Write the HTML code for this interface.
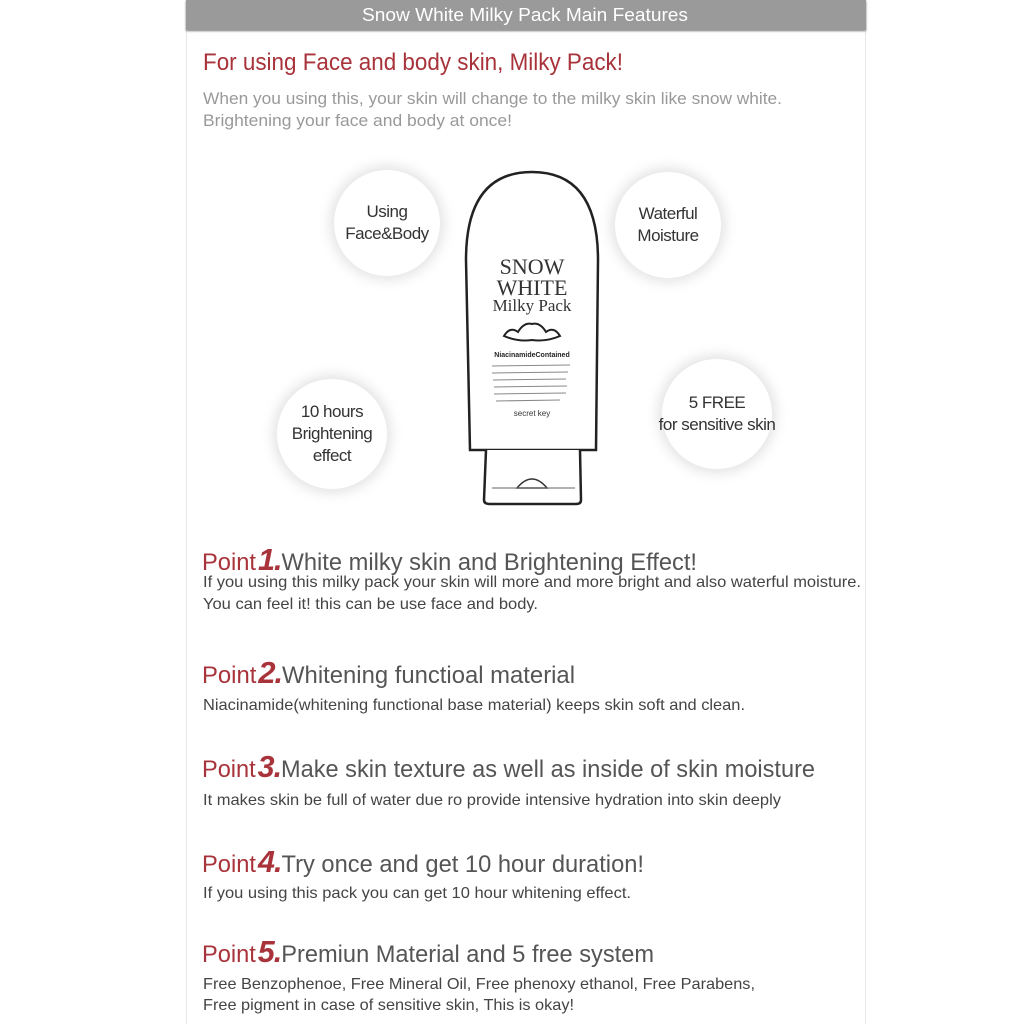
<!DOCTYPE html>
<html><head><meta charset="utf-8"><style>
html,body{margin:0;padding:0;background:#fff;}
body{width:1024px;height:1024px;position:relative;overflow:hidden;font-family:"Liberation Sans",Arial,sans-serif;}
.panel{position:absolute;left:186px;top:0;width:678px;height:1024px;border-left:1px solid #e6e6e6;border-right:1px solid #e6e6e6;background:#fff;}
.hdr{position:absolute;left:186px;top:0;width:680px;height:30px;background:#9a9a9a;box-shadow:0 1px 2px #777;}
.t{position:absolute;white-space:nowrap;line-height:1;}
.t span.in{display:inline-block;transform-origin:0 50%;}
.circ{position:absolute;border-radius:50%;background:#fff;box-shadow:0 0 14px 3px rgba(0,0,0,0.13);text-align:center;color:#333;font-size:17px;line-height:22px;display:flex;align-items:center;justify-content:center;letter-spacing:-0.5px;white-space:nowrap;}
.red{color:#a8333a;}
.num{font-weight:bold;font-style:italic;font-size:31px;color:#a8333a;letter-spacing:-1px;margin-left:2px;}
.gr{color:#555;}
</style></head><body>
<div class="panel"></div>
<div class="hdr"></div>
<div class="t" style="left:362px;top:6px;width:326px;font-size:18px;color:#fff;"><span class="in">Snow White Milky Pack Main Features</span></div>
<div class="t red" style="left:203px;top:51px;width:420px;font-size:24px;"><span class="in">For using Face and body skin, Milky Pack!</span></div>
<div class="t" style="left:203px;top:90px;width:579px;font-size:17px;color:#999;"><span class="in">When you using this, your skin will change to the milky skin like snow white.</span></div>
<div class="t" style="left:203px;top:112px;width:309px;font-size:17px;color:#999;"><span class="in">Brightening your face and body at once!</span></div>

<div class="circ" style="left:334px;top:170px;width:106px;height:106px;">Using<br>Face&amp;Body</div>
<div class="circ" style="left:615px;top:172px;width:106px;height:106px;">Waterful<br>Moisture</div>
<div class="circ" style="left:277px;top:379px;width:110px;height:110px;">10 hours<br>Brightening<br>effect</div>
<div class="circ" style="left:662px;top:359px;width:110px;height:110px;">5 FREE<br>for sensitive skin</div>

<svg style="position:absolute;left:0;top:0" width="1024" height="1024">
<path d="M470 450 L466 260 Q466 172 532 172 Q598 172 598 260 L596 450 Z" fill="#fff" stroke="#222" stroke-width="2.5"/>
<path d="M486 450 L484 500 Q484 504 490 504 L576 504 Q581 504 581 500 L580 450" fill="#fff" stroke="#222" stroke-width="2.5"/>
<path d="M517 488 Q532 470 547 488 Z" fill="none" stroke="#333" stroke-width="1.5"/>
<line x1="492" y1="488" x2="575" y2="488" stroke="#666" stroke-width="1"/>
<text x="532" y="274" text-anchor="middle" font-family="Liberation Serif,serif" font-size="22" fill="#333">SNOW</text>
<text x="532" y="295" text-anchor="middle" font-family="Liberation Serif,serif" font-size="22" fill="#333">WHITE</text>
<text x="532" y="311" text-anchor="middle" font-family="Liberation Serif,serif" font-size="17" fill="#333">Milky Pack</text>
<path d="M504 336 q6 -10 14 -4 q6 -10 14 -8 q8 -2 14 8 q8 -6 14 4 q-14 6 -28 4 q-14 2 -28 -4z" fill="none" stroke="#222" stroke-width="2"/>
<text x="532" y="357" text-anchor="middle" font-size="7" font-weight="bold" fill="#222">NiacinamideContained</text>
<g stroke="#888" stroke-width="1">
<line x1="492" y1="366" x2="570" y2="365"/><line x1="492" y1="373" x2="568" y2="372"/><line x1="493" y1="380" x2="566" y2="379"/><line x1="494" y1="387" x2="567" y2="386"/><line x1="494" y1="394" x2="566" y2="393"/><line x1="496" y1="401" x2="560" y2="400"/></g>
<text x="532" y="416" text-anchor="middle" font-size="8" fill="#333">secret key</text>
</svg>

<div class="t" style="left:202px;top:544px;width:495px;font-size:24px;"><span class="in"><span class="red">Point</span><span class="num">1.</span><span class="gr">White milky skin and Brightening Effect!</span></span></div>
<div class="t gr" style="left:203px;top:575px;width:658px;font-size:16px;color:#444;"><span class="in">If you using this milky pack your skin will more and more bright and also waterful moisture.</span></div>
<div class="t gr" style="left:203px;top:597px;width:335px;font-size:16px;color:#444;"><span class="in">You can feel it! this can be use face and body.</span></div>

<div class="t" style="left:202px;top:657px;width:373px;font-size:24px;"><span class="in"><span class="red">Point</span><span class="num">2.</span><span class="gr">Whitening functioal material</span></span></div>
<div class="t" style="left:203px;top:698px;width:542px;font-size:16px;color:#444;"><span class="in">Niacinamide(whitening functional base material) keeps skin soft and clean.</span></div>

<div class="t" style="left:202px;top:751px;width:613px;font-size:24px;"><span class="in"><span class="red">Point</span><span class="num">3.</span><span class="gr">Make skin texture as well as inside of skin moisture</span></span></div>
<div class="t" style="left:203px;top:793px;width:578px;font-size:16px;color:#444;"><span class="in">It makes skin be full of water due ro provide intensive hydration into skin deeply</span></div>

<div class="t" style="left:202px;top:846px;width:442px;font-size:24px;"><span class="in"><span class="red">Point</span><span class="num">4.</span><span class="gr">Try once and get 10 hour duration!</span></span></div>
<div class="t" style="left:203px;top:886px;width:428px;font-size:16px;color:#444;"><span class="in">If you using this pack you can get 10 hour whitening effect.</span></div>

<div class="t" style="left:202px;top:936px;width:452px;font-size:24px;"><span class="in"><span class="red">Point</span><span class="num">5.</span><span class="gr">Premiun Material and 5 free system</span></span></div>
<div class="t" style="left:203px;top:977px;width:552px;font-size:16px;color:#444;"><span class="in">Free Benzophenoe, Free Mineral Oil, Free phenoxy ethanol, Free Parabens,</span></div>
<div class="t" style="left:203px;top:998px;width:371px;font-size:16px;color:#444;"><span class="in">Free pigment in case of sensitive skin, This is okay!</span></div>

<script>
document.querySelectorAll('.t').forEach(function(d){
  var s=d.querySelector('.in');var w=parseFloat(d.style.width);var a=s.getBoundingClientRect().width;
  if(a>0) s.style.transform='scaleX('+(w/a)+')';
});
</script>
</body></html>
